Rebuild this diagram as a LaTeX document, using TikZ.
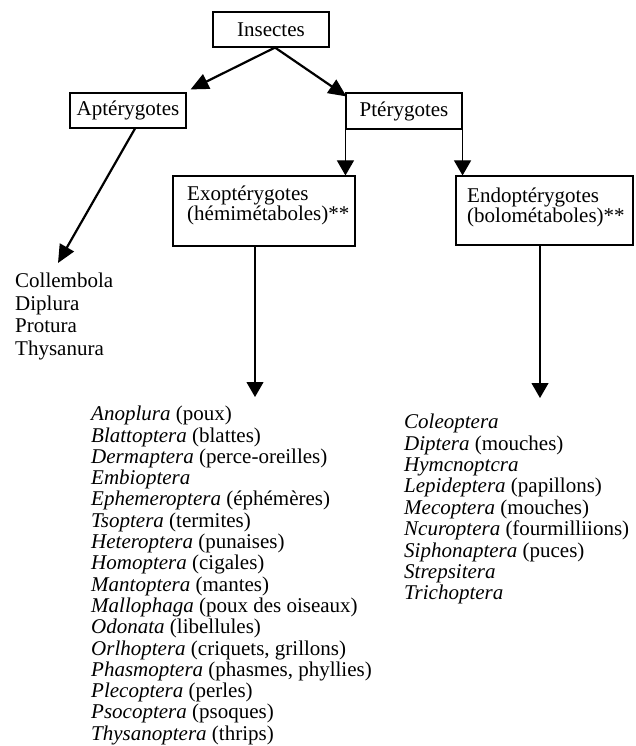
\documentclass[tikz,border=0pt]{standalone}
\usepackage{fontspec}
\setmainfont{Liberation Serif}
\usetikzlibrary{arrows.meta}
\begin{document}
\begin{tikzpicture}[x=1pt,y=-1pt,
  box/.style={draw, line width=1.1pt, rectangle, inner sep=0pt},
  boxtxt/.style={inner sep=0pt, anchor=north west, align=left, font=\fontsize{21}{20}\selectfont},
  listtxt/.style={inner sep=0pt, anchor=north west, align=left},
  thickarrow/.style={line width=2.2pt, -{Triangle[length=18pt,width=16pt]}},
  thinarrow/.style={line width=1.1pt, -{Triangle[length=15pt,width=17pt]}},
  lbl/.style={font=\fontsize{21}{22}\selectfont}
]
\useasboundingbox (0,0) rectangle (635,746);

% boxes
\node[box, minimum width=116pt, minimum height=35pt, lbl] (ins) at (271,29.5) {Insectes};
\node[box, minimum width=116pt, minimum height=35pt, lbl] (apt) at (128,110.5) {Aptérygotes};
\node[box, minimum width=116pt, minimum height=36pt, lbl] (pter) at (404,111) {Ptérygotes};
\node[box, minimum width=182pt, minimum height=70pt] (exo) at (264,211) {};
\node[box, minimum width=177pt, minimum height=69pt] (endo) at (544.5,210.5) {};
\node[boxtxt] (exotxt) at (187,186) {Exoptérygotes\\(hémimétaboles)**};
\node[boxtxt] (endotxt) at (467,188) {Endoptérygotes\\(bolométaboles)**};

% lists
\node[listtxt, font=\fontsize{21}{22.5}\selectfont] (aptlist) at (15,273)
  {Collembola\\Diplura\\Protura\\Thysanura};
\node[listtxt, font=\fontsize{21}{21.3}\selectfont] (exolist) at (91,406)
  {\textit{Anoplura} (poux)\\
   \textit{Blattoptera} (blattes)\\
   \textit{Dermaptera} (perce-oreilles)\\
   \textit{Embioptera}\\
   \textit{Ephemeroptera} (éphémères)\\
   \textit{Tsoptera} (termites)\\
   \textit{Heteroptera} (punaises)\\
   \textit{Homoptera} (cigales)\\
   \textit{Mantoptera} (mantes)\\
   \textit{Mallophaga} (poux des oiseaux)\\
   \textit{Odonata} (libellules)\\
   \textit{Orlhoptera} (criquets, grillons)\\
   \textit{Phasmoptera} (phasmes, phyllies)\\
   \textit{Plecoptera} (perles)\\
   \textit{Psocoptera} (psoques)\\
   \textit{Thysanoptera} (thrips)};
\node[listtxt, font=\fontsize{21}{21.4}\selectfont] (endolist) at (404,414)
  {\textit{Coleoptera}\\
   \textit{Diptera} (mouches)\\
   \textit{Hymcnoptcra}\\
   \textit{Lepideptera} (papillons)\\
   \textit{Mecoptera} (mouches)\\
   \textit{Ncuroptera} (fourmilliions)\\
   \textit{Siphonaptera} (puces)\\
   \textit{Strepsitera}\\
   \textit{Trichoptera}};

% free ends
\coordinate (aptend) at (58,263);
\coordinate (exoend) at (255,397);
\coordinate (endoend) at (540,398);

% connectors
\draw[thickarrow] ([xshift=4pt]ins.south) -- ([shift={(4,-3)}]apt.north east);
\draw[thickarrow] ([xshift=4pt]ins.south) -- ([shift={(1,4)}]pter.north west);
\draw[thickarrow] ([xshift=7pt]apt.south) -- (aptend);
\draw[thinarrow] (pter.south west) -- (pter.south west |- exo.north);
\draw[thinarrow] (pter.south east) -- (pter.south east |- endo.north);
\draw[thinarrow] (exo.south -| exoend) -- (exoend);
\draw[thinarrow] (endo.south -| endoend) -- (endoend);
\end{tikzpicture}
\end{document}
